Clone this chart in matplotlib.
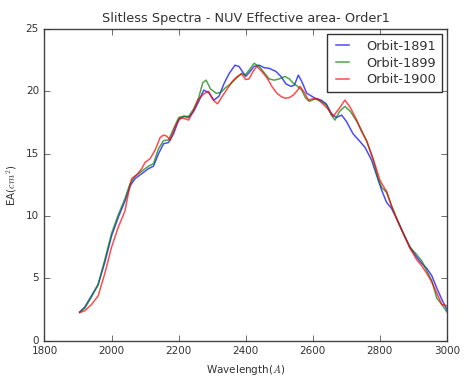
import numpy as np
import matplotlib
matplotlib.use('Agg')
import matplotlib.pyplot as plt

# wavelength (A) / effective area (cm^2)
wl_1891 = [1905, 1920, 1940, 1960, 1980, 2000, 2020, 2040, 2055, 2070, 2090, 2110, 2125, 2140,
           2155, 2170, 2185, 2200, 2215, 2230, 2245, 2260, 2275, 2290, 2305, 2320, 2335, 2350,
           2368, 2380, 2390, 2400, 2410, 2425, 2440, 2455, 2470, 2490, 2505, 2520, 2535, 2545,
           2557, 2567, 2582, 2607, 2625, 2640, 2656, 2670, 2686, 2700, 2720, 2740, 2756, 2775,
           2795, 2805, 2820, 2835, 2850, 2870, 2890, 2910, 2925, 2940, 2955, 2970, 2985, 3000]
ea_1891 = [2.3, 2.7, 3.6, 4.5, 6.3, 8.4, 9.9, 11.2, 12.4, 13.0, 13.4, 13.8, 14.0, 15.0,
           15.8, 15.9, 16.6, 17.7, 18.0, 17.9, 18.4, 19.2, 20.1, 19.9, 19.3, 19.6, 20.6, 21.4,
           22.1, 22.0, 21.6, 21.2, 21.5, 22.0, 22.1, 21.9, 21.85, 21.6, 21.2, 20.6, 20.4, 20.5,
           21.3, 20.8, 19.85, 19.45, 19.3, 19.0, 18.2, 17.9, 18.1, 17.6, 16.6, 16.0, 15.5, 14.5,
           12.9, 12.1, 11.1, 10.6, 9.8, 8.6, 7.5, 6.7, 6.2, 5.8, 5.2, 4.2, 3.3, 2.5]

wl_1899 = [1905, 1920, 1940, 1960, 1980, 2000, 2020, 2040, 2055, 2070, 2090, 2110, 2125, 2140,
           2155, 2170, 2185, 2200, 2215, 2230, 2245, 2260, 2272, 2282, 2295, 2312, 2325, 2340,
           2355, 2370, 2388, 2398, 2410, 2425, 2440, 2455, 2470, 2485, 2500, 2517, 2530, 2542,
           2555, 2567, 2578, 2590, 2607, 2625, 2641, 2655, 2666, 2680, 2696, 2712, 2731, 2745,
           2761, 2780, 2795, 2805, 2820, 2835, 2850, 2870, 2890, 2910, 2925, 2940, 2955, 2970,
           2985, 3000]
ea_1899 = [2.3, 2.6, 3.5, 4.5, 6.5, 8.6, 10.1, 11.4, 12.6, 13.2, 13.6, 14.0, 14.2, 15.4,
           16.05, 16.1, 17.0, 17.9, 18.0, 18.0, 18.6, 19.5, 20.7, 20.9, 20.2, 19.85, 19.9, 20.3,
           20.6, 21.0, 21.45, 21.3, 21.7, 22.25, 22.0, 21.5, 21.0, 20.9, 21.0, 21.2, 21.0, 20.65,
           20.4, 20.1, 19.5, 19.2, 19.4, 19.2, 18.9, 18.1, 17.7, 18.4, 18.8, 18.4, 17.6, 16.9,
           16.0, 14.5, 13.0, 12.3, 11.9, 10.8, 9.8, 8.6, 7.5, 6.9, 6.4, 5.6, 4.8, 3.4,
           2.9, 2.3]

wl_1900 = [1905, 1920, 1940, 1960, 1980, 2000, 2020, 2040, 2050, 2060, 2075, 2090, 2100, 2115,
           2130, 2145, 2155, 2165, 2175, 2190, 2205, 2220, 2230, 2245, 2260, 2275, 2289, 2303,
           2316, 2330, 2345, 2360, 2375, 2388, 2400, 2410, 2422, 2433, 2448, 2463, 2478, 2493,
           2505, 2517, 2530, 2542, 2555, 2562, 2575, 2587, 2600, 2614, 2630, 2645, 2661, 2678,
           2696, 2712, 2731, 2745, 2761, 2780, 2800, 2810, 2820, 2835, 2850, 2870, 2890, 2910,
           2925, 2940, 2955, 2970, 2985, 3000]
ea_1900 = [2.25, 2.4, 2.9, 3.6, 5.4, 7.5, 9.1, 10.4, 11.8, 13.0, 13.3, 13.8, 14.3, 14.6,
           15.3, 16.3, 16.5, 16.4, 16.1, 17.2, 17.9, 17.8, 17.7, 18.5, 19.4, 19.8, 20.0, 19.3,
           19.0, 19.6, 20.2, 20.8, 21.2, 21.4, 20.95, 21.0, 21.6, 22.0, 21.6, 21.1, 20.4, 19.85,
           19.6, 19.45, 19.5, 19.7, 20.1, 20.4, 19.9, 19.3, 19.4, 19.4, 19.0, 18.6, 18.0, 18.6,
           19.3, 18.7, 17.7, 16.8, 16.0, 14.6, 12.9, 12.4, 12.0, 10.8, 9.8, 8.6, 7.4, 6.5,
           6.0, 5.4, 4.7, 3.8, 2.9, 2.8]

labels = ['Orbit-1891', 'Orbit-1899', 'Orbit-1900']

plt.style.use('classic')
plt.rcParams['text.color'] = '#333333'
plt.rcParams['xtick.color'] = '#333333'
plt.rcParams['ytick.color'] = '#333333'
plt.rcParams['axes.labelcolor'] = '#333333'

fig = plt.figure(figsize=(4.68, 3.82), dpi=100, facecolor='white')
ax = fig.add_axes([0.095, 0.108, 0.86, 0.816])
ax.set_facecolor('white')

ax.plot(wl_1891, ea_1891, color='b', alpha=0.7, lw=1.1, label=labels[0])
ax.plot(wl_1899, ea_1899, color='g', alpha=0.7, lw=1.1, label=labels[1])
ax.plot(wl_1900, ea_1900, color='r', alpha=0.7, lw=1.1, label=labels[2])

ax.set_xlim(1800, 3000)
ax.set_ylim(0, 25)
ax.set_xticks(np.arange(1800, 3001, 200))
ax.set_yticks(np.arange(0, 26, 5))
ax.tick_params(labelsize=7.5)
for sp in ax.spines.values():
    sp.set_color('#444444')

ax.set_title('Slitless Spectra - NUV Effective area- Order1', fontsize=9.3)
ax.set_xlabel('Wavelength($A$)', fontsize=7.5)
ax.set_ylabel('EA($cm^2$)', fontsize=7.5)
leg = ax.legend(loc='upper right', fontsize=9.3, borderaxespad=0.4,
                borderpad=0.45, labelspacing=0.28, handlelength=1.6, handletextpad=1.0)
leg.get_frame().set_edgecolor('#333333')

fig.savefig('out.png', dpi=100, facecolor='white')
